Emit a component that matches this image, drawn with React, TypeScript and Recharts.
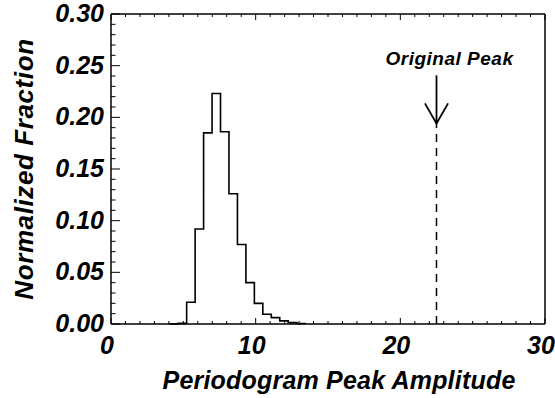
import { Line, LineChart, ReferenceDot, ReferenceLine, XAxis, YAxis } from 'recharts'

// histogram bin left edges and normalized fraction per bin
const binEdges = [4.06, 4.645, 5.23, 5.815, 6.4, 6.985, 7.57, 8.155, 8.74, 9.325, 9.91, 10.495, 11.08, 11.665, 12.25, 12.835, 13.42]
const fractions = [0.0001, 0.0006, 0.021, 0.092, 0.185, 0.223, 0.186, 0.126, 0.077, 0.04, 0.02, 0.0094, 0.0062, 0.003, 0.0013, 0.0005, 0]

const xTicks = [0, 1, 2, 3, 4, 5, 6, 7, 8, 9, 10, 11, 12, 13, 14, 15, 16, 17, 18, 19, 20, 21, 22, 23, 24, 25, 26, 27, 28, 29, 30]
const yTicks = [
  0, 0.01, 0.02, 0.03, 0.04, 0.05, 0.06, 0.07, 0.08, 0.09, 0.1, 0.11, 0.12, 0.13, 0.14, 0.15, 0.16, 0.17, 0.18, 0.19, 0.2,
  0.21, 0.22, 0.23, 0.24, 0.25, 0.26, 0.27, 0.28, 0.29, 0.3,
]

const originalPeak = 22.5
const peakLabel = 'Original Peak'

const data = binEdges.map((x, i) => ({ x, y: fractions[i] }))

const FONT = '"Liberation Sans", Arial, sans-serif'
const txt = { fontFamily: FONT, fontWeight: 'bold' as const, fontStyle: 'italic' as const, fill: '#000' }

const isMajorX = (v: number) => v % 10 === 0
const isMajorY = (v: number) => Math.abs(v * 20 - Math.round(v * 20)) < 1e-6

function BottomTick({ x, y, payload }: any) {
  const major = isMajorX(payload.value)
  return (
    <g>
      <line x1={x} x2={x} y1={y} y2={y - (major ? 6 : 3)} stroke="#000" />
      {major && (
        <text x={x - 4} y={y + 30} textAnchor="middle" fontSize={25} {...txt}>
          {payload.value}
        </text>
      )}
    </g>
  )
}

function TopTick({ x, y, payload }: any) {
  const major = isMajorX(payload.value)
  return <line x1={x} x2={x} y1={y} y2={y + (major ? 6 : 3)} stroke="#000" />
}

function LeftTick({ x, y, payload }: any) {
  const major = isMajorY(payload.value)
  return (
    <g>
      <line x1={x} x2={x + (major ? 9 : 4.5)} y1={y} y2={y} stroke="#000" />
      {major && (
        <text x={x - 7} y={y + 8} textAnchor="end" fontSize={25} {...txt}>
          {payload.value.toFixed(2)}
        </text>
      )}
    </g>
  )
}

function RightTick({ x, y, payload }: any) {
  const major = isMajorY(payload.value)
  return <line x1={x} x2={x - (major ? 9 : 4.5)} y1={y} y2={y} stroke="#000" />
}

export default function App() {
  return (
    <div style={{ position: 'fixed', left: 0, top: 0, width: 555, height: 398, background: '#fff' }}>
      <LineChart width={555} height={398} data={data} margin={{ top: 13, right: 9, bottom: 44, left: 81 }}>
        <XAxis
          dataKey="x"
          type="number"
          domain={[0, 30]}
          ticks={xTicks}
          interval={0}
          tickSize={0}
          tickMargin={0}
          tickLine={false}
          tick={BottomTick}
          height={30}
          axisLine={{ stroke: '#000', strokeWidth: 1.5 }}
          label={({ viewBox }: any) => (
            <text
              x={viewBox.x + viewBox.width / 2 + 11}
              y={viewBox.y + 65}
              textAnchor="middle"
              fontSize={25}
              letterSpacing={0.2}
              {...txt}
            >
              Periodogram Peak Amplitude
            </text>
          )}
        />
        <XAxis
          xAxisId="top"
          orientation="top"
          dataKey="x"
          type="number"
          domain={[0, 30]}
          ticks={xTicks}
          interval={0}
          tickSize={0}
          tickMargin={0}
          tickLine={false}
          tick={TopTick}
          height={1}
          axisLine={{ stroke: '#000', strokeWidth: 1.5 }}
        />
        <YAxis
          type="number"
          domain={[0, 0.3]}
          ticks={yTicks}
          interval={0}
          tickSize={0}
          tickMargin={0}
          tickLine={false}
          tick={LeftTick}
          width={30}
          axisLine={{ stroke: '#000', strokeWidth: 1.5 }}
          label={({ viewBox }: any) => {
            const cx = 33
            const cy = viewBox.y + viewBox.height / 2
            return (
              <text
                x={cx}
                y={cy}
                transform={`rotate(-90 ${cx} ${cy})`}
                textAnchor="middle"
                fontSize={26}
                letterSpacing={0.6}
                {...txt}
              >
                Normalized Fraction
              </text>
            )
          }}
        />
        <YAxis
          yAxisId="right"
          orientation="right"
          type="number"
          domain={[0, 0.3]}
          ticks={yTicks}
          interval={0}
          tickSize={0}
          tickMargin={0}
          tickLine={false}
          tick={RightTick}
          width={1}
          axisLine={{ stroke: '#000', strokeWidth: 1.5 }}
        />
        <Line
          type="stepAfter"
          dataKey="y"
          stroke="#000"
          strokeWidth={1.6}
          dot={false}
          isAnimationActive={false}
        />
        <ReferenceLine
          segment={[
            { x: originalPeak, y: 0 },
            { x: originalPeak, y: 0.2 },
          ]}
          stroke="#000"
          strokeWidth={1.5}
          strokeDasharray="8 6"
        />
        <ReferenceLine
          segment={[
            { x: originalPeak, y: 0.2406 },
            { x: originalPeak, y: 0.194 },
          ]}
          stroke="#000"
          strokeWidth={1.8}
        />
        <ReferenceLine
          segment={[
            { x: originalPeak - 0.8, y: 0.2135 },
            { x: originalPeak, y: 0.194 },
          ]}
          stroke="#000"
          strokeWidth={1.8}
        />
        <ReferenceLine
          segment={[
            { x: originalPeak + 0.8, y: 0.2135 },
            { x: originalPeak, y: 0.194 },
          ]}
          stroke="#000"
          strokeWidth={1.8}
        />
        <ReferenceDot
          x={originalPeak}
          y={0.2406}
          r={0}
          fill="none"
          stroke="none"
          label={({ viewBox }: any) => (
            <text
              x={viewBox.x + viewBox.width / 2 + 13}
              y={viewBox.y - 10}
              textAnchor="middle"
              fontSize={19}
              letterSpacing={0.5}
              {...txt}
            >
              {peakLabel}
            </text>
          )}
        />
      </LineChart>
    </div>
  )
}
